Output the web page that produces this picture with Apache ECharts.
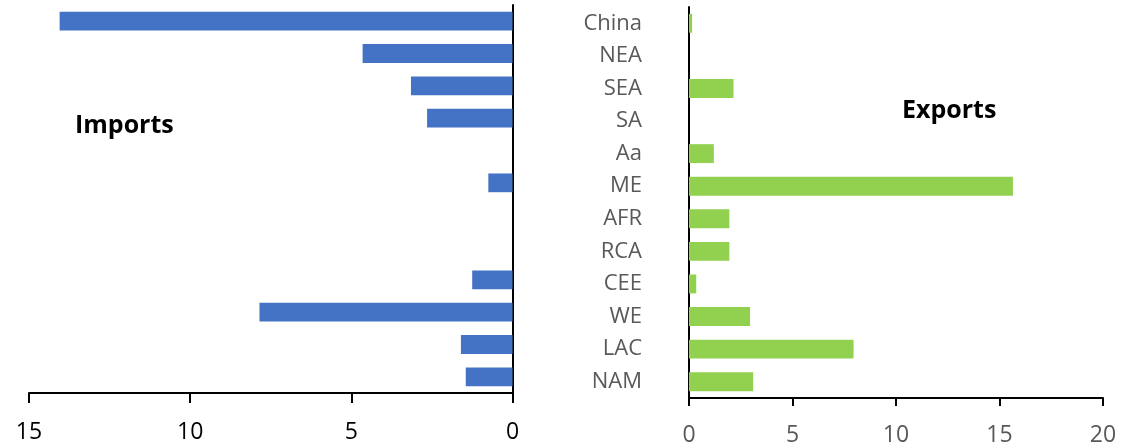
<!DOCTYPE html>
<html>
<head>
<meta charset="utf-8">
<title>Imports / Exports</title>
<script src="https://cdn.jsdelivr.net/npm/echarts@6/dist/echarts.min.js"></script>
<style>
  html, body { margin: 0; padding: 0; background: #fff; }
  #chart { width: 1142px; height: 447px; }
</style>
</head>
<body>
<div id="chart"></div>
<script>
// regions, top to bottom
var regions = ['China', 'NEA', 'SEA', 'SA', 'Aa', 'ME', 'AFR', 'RCA', 'CEE', 'WE', 'LAC', 'NAM'];
var imports = [14.05, 4.65, 3.15, 2.65, null, 0.75, null, null, 1.25, 7.85, 1.6, 1.45];
var exports = [0.15, null, 2.15, null, 1.2, 15.65, 1.95, 1.95, 0.35, 2.95, 7.95, 3.1];
var importTicks = [0, 15, 5];   // min, max, step
var exportTicks = [0, 20, 5];

var font = '"Open Sans", "Noto Sans", sans-serif';
var myChart = echarts.init(document.getElementById('chart'));

var option = {
  animation: false,
  textStyle: { fontFamily: font },
  title: [
    { text: 'Imports', left: 75, top: 113, padding: 0, textStyle: { fontSize: 25, fontWeight: 'bold', color: '#000', fontFamily: font } },
    { text: 'Exports', left: 902, top: 98, padding: 0, textStyle: { fontSize: 25, fontWeight: 'bold', color: '#000', fontFamily: font } }
  ],
  grid: [
    { left: 29, right: 629.5, top: 5, height: 388 },
    { left: 689, right: 39, top: 7, height: 392 }
  ],
  xAxis: [
    {
      gridIndex: 0, type: 'value', inverse: true,
      min: importTicks[0], max: importTicks[1], interval: importTicks[2],
      axisLine: { show: true, lineStyle: { color: '#000', width: 2 } },
      axisTick: { show: true, length: 10, lineStyle: { color: '#000', width: 2 } },
      axisLabel: { color: '#000', fontSize: 23, margin: 28, fontFamily: font },
      splitLine: { show: false }
    },
    {
      gridIndex: 1, type: 'value',
      min: exportTicks[0], max: exportTicks[1], interval: exportTicks[2],
      axisLine: { show: true, lineStyle: { color: '#000', width: 2 } },
      axisTick: { show: true, length: 8, lineStyle: { color: '#000', width: 2 } },
      axisLabel: { color: '#595959', fontSize: 23, margin: 26, fontFamily: font },
      splitLine: { show: false }
    }
  ],
  yAxis: [
    {
      gridIndex: 0, type: 'category', data: regions, inverse: true, position: 'right',
      axisLine: { show: true, onZero: false, lineStyle: { color: '#000', width: 2 } },
      axisTick: { show: false },
      axisLabel: { show: false }
    },
    {
      gridIndex: 1, type: 'category', data: regions, inverse: true, position: 'left',
      axisLine: { show: true, onZero: false, lineStyle: { color: '#000', width: 2 } },
      axisTick: { show: false },
      axisLabel: { color: '#595959', fontSize: 22, margin: 47, fontFamily: font }
    }
  ],
  series: [
    {
      name: 'Imports', type: 'bar', xAxisIndex: 0, yAxisIndex: 0,
      data: imports, barCategoryGap: '42%',
      itemStyle: { color: '#4472C4' }
    },
    {
      name: 'Exports', type: 'bar', xAxisIndex: 1, yAxisIndex: 1,
      data: exports, barCategoryGap: '42%',
      itemStyle: { color: '#92D050' }
    }
  ]
};

option && myChart.setOption(option);
</script>
</body>
</html>
